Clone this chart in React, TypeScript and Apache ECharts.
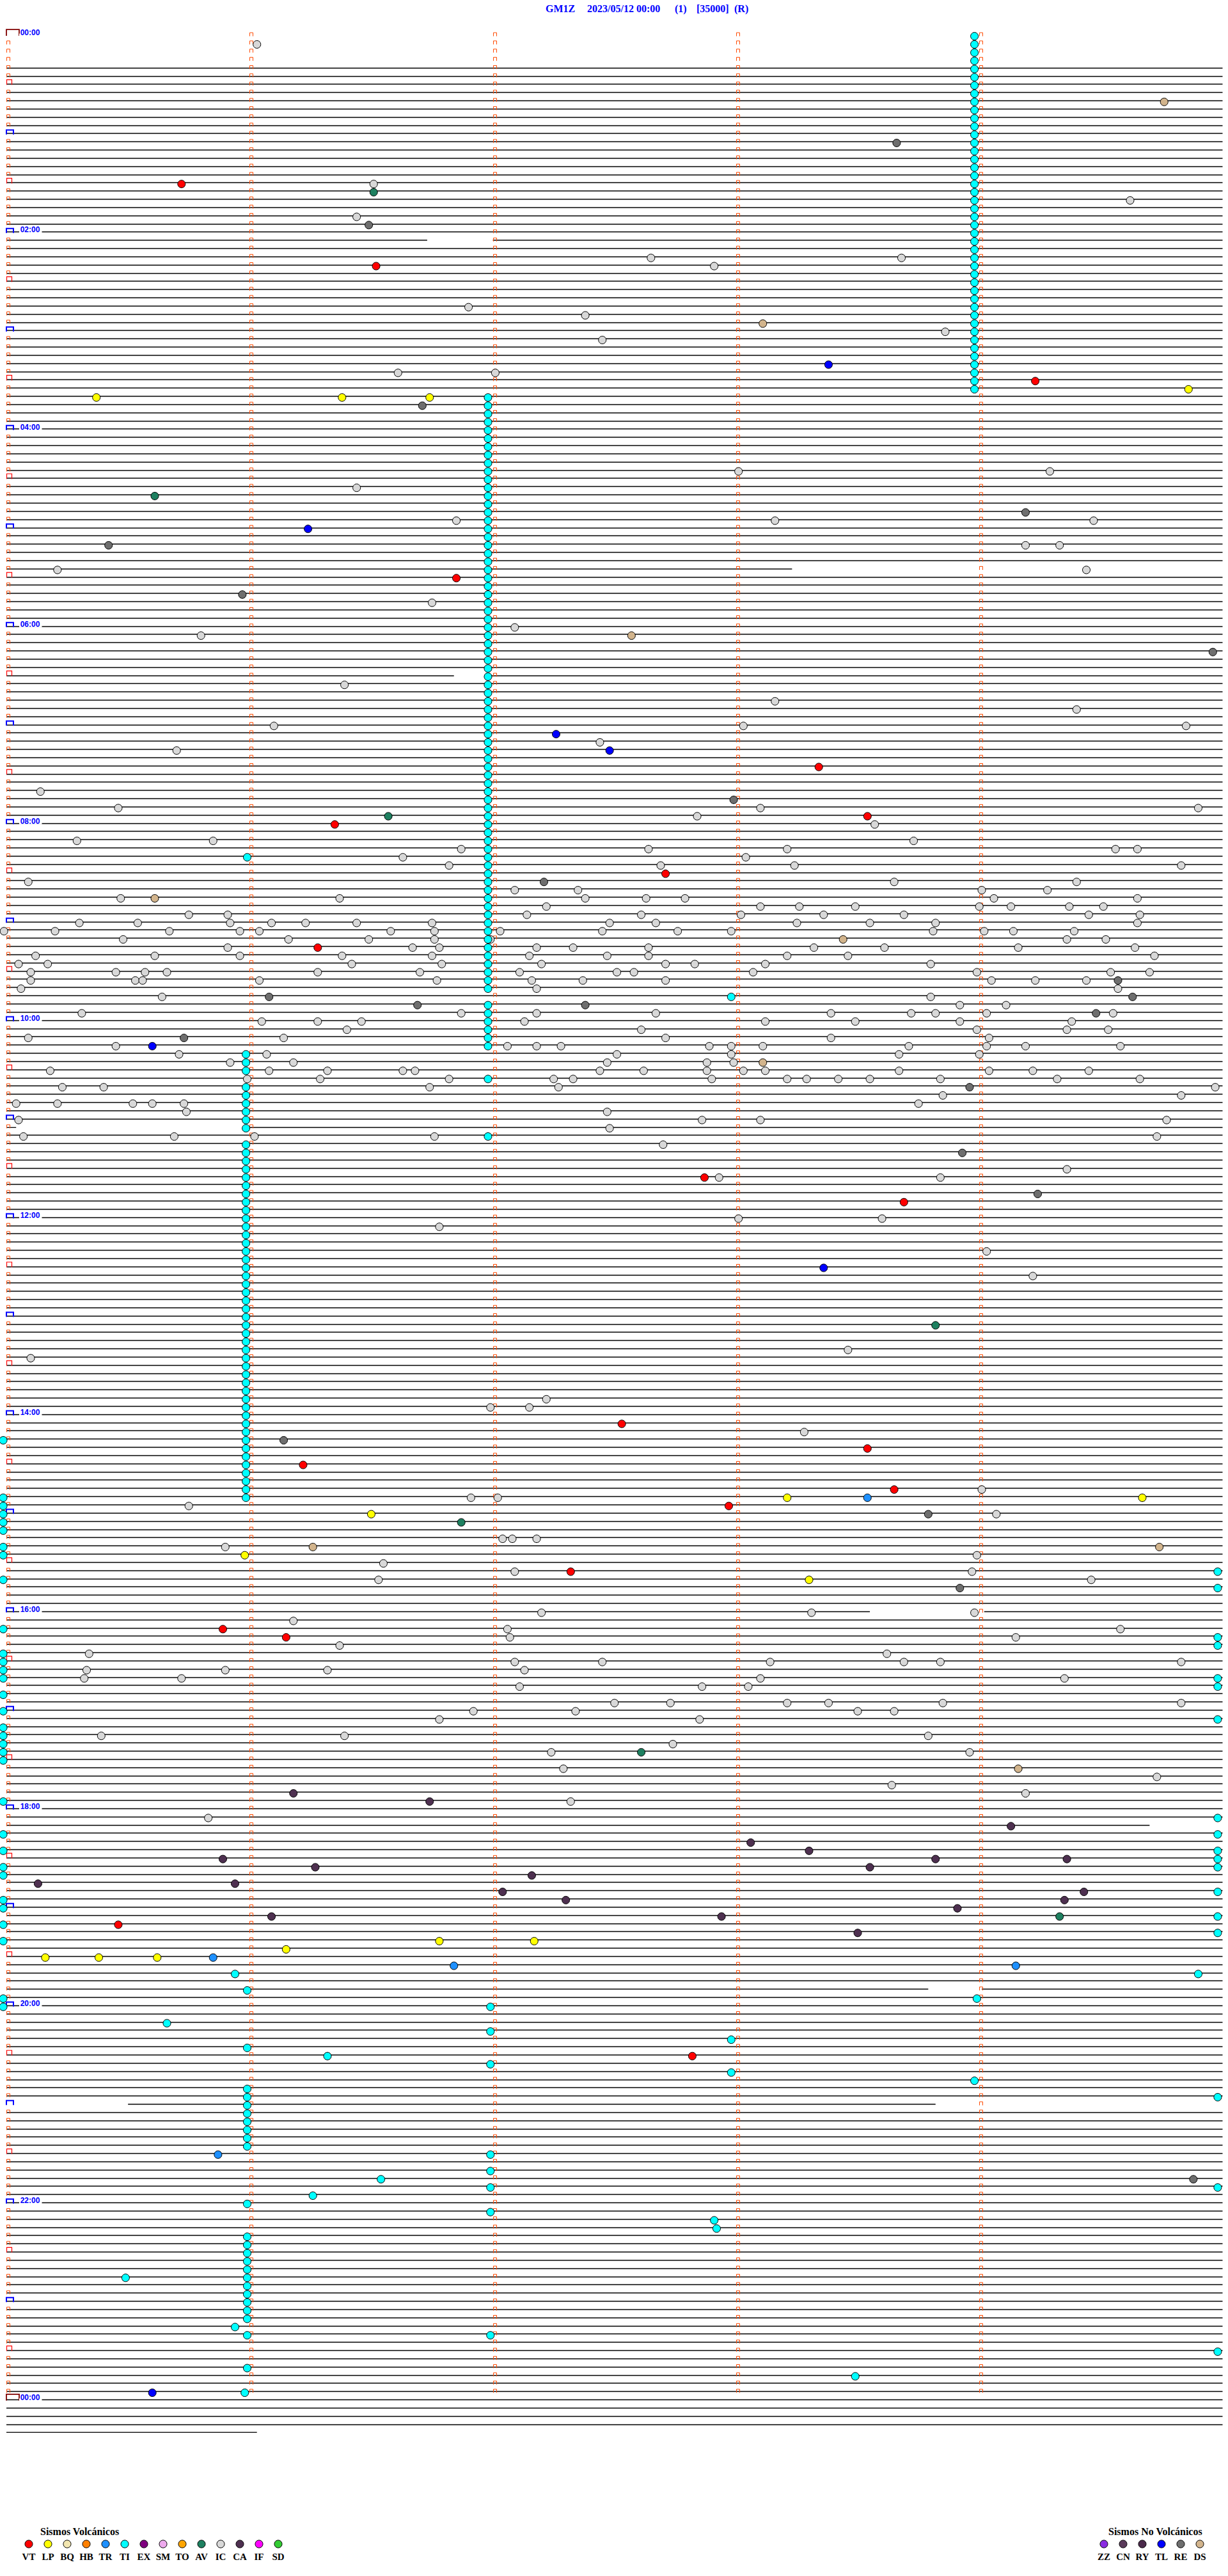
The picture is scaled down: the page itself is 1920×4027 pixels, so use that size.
import React, { useEffect, useRef } from "react";
import * as echarts from "echarts";

// ---------- layout constants ----------
const PAGE_W = 1920;
const PAGE_H = 4027;
const X0 = 10;
const PX_PER_MIN = 380.3;
const Y0 = 54.6;
const PX_PER_LINE = 12.836;
const MINUTES_PER_LINE = 5;
const LAST_LINE = 292;
const MARKED_LINES = 288;
const TRACE_FIRST = 4;
const LAST_LINE_END = 1.03;

// ---------- title ----------
const TITLE_PARTS = ["GM1Z", "2023/05/12 00:00", "(1)", "[35000]", "(R)"];
const TITLE_X = [853, 918, 1055, 1089, 1148];

// ---------- trace gaps [line, fromMinute, toMinute] ----------
const TRACE_GAPS = [
  [25, 1.73, 2.0],
  [65, 3.23, 5],
  [78, 1.84, 1.98],
  [133, 0.04, 0.99],
  [192, 3.55, 4.02],
  [218, 4.7, 5],
  [238, 3.79, 4.01],
  [252, 0, 0.5],
  [252, 3.82, 5],
];

// ---------- hour labels ----------
const HOUR_LABEL_LINES = [0, 24, 48, 72, 96, 120, 144, 168, 192, 216, 240, 264, 288];
const HOUR_LABELS = ["00:00", "02:00", "04:00", "06:00", "08:00", "10:00", "12:00", "14:00", "16:00", "18:00", "20:00", "22:00", "00:00"];

// ---------- legend ----------
const VOLC_TYPES = ["VT", "LP", "BQ", "HB", "TR", "TI", "EX", "SM", "TO", "AV", "IC", "CA", "IF", "SD"];
const NONVOLC_TYPES = ["ZZ", "CN", "RY", "TL", "RE", "DS"];
const TYPE_COLORS = {
  VT: "#FF0000", LP: "#FFFF00", BQ: "#F2E6B0", HB: "#FF8000", TR: "#1E90FF", TI: "#00FFFF",
  EX: "#800080", SM: "#EEAAEE", TO: "#FFA500", AV: "#1E8060", IC: "#D8D8D8", CA: "#4E3050",
  IF: "#FF00FF", SD: "#33CC33", ZZ: "#8A2BE2", CN: "#5A3A5A", RY: "#4B2A4B", TL: "#0000FF",
  RE: "#6E6E6E", DS: "#D2B48C",
};

// ---------- events: [minute within line, line index] ----------
const VT_EVENTS = [[0.72,18],[1.52,28],[4.23,42],[1.85,66],[3.34,89],[3.54,95],[1.35,96],[2.71,102],[1.28,111],[2.87,139],[3.69,142],[2.53,169],[3.54,172],[1.22,174],[3.65,177],[2.97,179],[2.32,187],[0.89,194],[1.15,195],[0.46,230],[2.82,246]];
const LP_EVENTS = [[4.86,43],[0.37,44],[1.38,44],[1.74,44],[3.21,178],[4.67,178],[1.50,180],[0.98,185],[3.30,188],[1.78,232],[2.17,232],[1.15,233],[0.16,234],[0.38,234],[0.62,234]];
const TR_EVENTS = [[3.54,178],[0.85,234],[1.84,235],[4.15,235],[0.87,258]];
const AV_EVENTS = [[1.51,19],[0.61,56],[1.57,95],[3.82,157],[1.87,181],[2.61,209],[4.33,229]];
const TL_EVENTS = [[3.38,40],[1.24,60],[2.26,85],[2.48,87],[0.60,123],[3.36,150],[0.60,287]];
const RE_EVENTS = [[3.66,13],[1.49,23],[1.71,45],[4.19,58],[0.42,62],[0.97,68],[4.96,75],[2.99,93],[2.21,103],[4.57,115],[1.08,117],[4.63,117],[1.69,118],[2.38,118],[4.48,119],[0.73,122],[3.96,128],[3.93,136],[4.24,141],[1.14,171],[3.79,180],[3.92,189],[4.88,261]];
const DS_EVENTS = [[4.76,8],[3.11,35],[2.57,73],[0.61,105],[3.44,110],[3.11,125],[1.26,184],[4.74,184],[4.16,211]];
const CA_EVENTS = [[1.18,214],[1.74,215],[4.13,218],[3.06,220],[3.30,221],[0.89,222],[3.82,222],[4.36,222],[1.27,223],[3.55,223],[2.16,224],[0.13,225],[0.94,225],[2.04,226],[4.43,226],[2.30,227],[4.35,227],[3.91,228],[1.09,229],[2.94,229],[3.50,231]];

const TI_COLUMN_A_MINUTE = 3.98;
const TI_COLUMN_A_LINES = [0,1,2,3,4,5,6,7,8,9,10,11,12,13,14,15,16,17,18,19,20,21,22,23,24,25,26,27,28,29,30,31,32,33,34,35,36,37,38,39,40,41,42,43];
const TI_COLUMN_B_MINUTE = 1.98;
const TI_COLUMN_B_LINES = [44,45,46,47,48,49,50,51,52,53,54,55,56,57,58,59,60,61,62,63,64,65,66,67,68,69,70,71,72,73,74,75,76,77,78,79,80,81,82,83,84,85,86,87,88,89,90,91,92,93,94,95,96,97,98,99,100,101,102,103,104,105,106,107,108,109,110,111,112,113,114,115,116,118,119,120,121,122,123];
const TI_COLUMN_C_MINUTE = 0.985;
const TI_COLUMN_C_LINES = [124,125,126,128,129,130,131,132,133,135,136,137,138,139,140,141,142,143,144,145,146,147,148,149,150,151,152,153,154,155,156,157,158,159,160,161,162,163,164,165,166,167,168,169,170,171,172,173,174,175,176,177,178];
const TI_LEFT_EDGE_LINES = [171,178,179,180,181,182,184,185,188,194,197,198,199,200,202,204,206,207,208,209,210,215,219,221,223,224,227,228,230,232,239,240];
const TI_RIGHT_EDGE_LINES = [187,189,195,196,200,201,205,217,219,221,222,223,226,229,231,251,262,282];
const TI_OTHER_EVENTS = [[0.99,100],[2.98,117],[1.98,127],[1.98,134],[0.94,236],[4.90,236],[0.99,238],[3.99,239],[1.99,240],[0.66,242],[1.99,243],[2.98,244],[0.99,245],[1.32,246],[1.99,247],[2.98,248],[3.98,249],[0.99,250],[0.99,251],[0.99,252],[0.99,253],[0.99,254],[0.99,255],[0.99,256],[0.99,257],[1.99,258],[1.99,260],[1.54,261],[1.99,262],[1.26,263],[0.99,264],[1.99,265],[2.91,266],[2.92,267],[0.99,268],[0.99,269],[0.99,270],[0.99,271],[0.99,272],[0.99,273],[0.49,273],[0.99,274],[0.99,275],[0.99,276],[0.99,277],[0.99,278],[0.94,279],[0.99,280],[1.99,280],[0.99,284],[3.49,285],[0.98,287]];

const IC_EVENTS = [
  [1.03,1],[1.51,18],[4.62,20],[1.44,22],[2.65,27],[3.68,27],[2.91,28],[1.90,33],[2.38,34],[3.86,36],[2.45,37],[1.61,41],[2.01,41],
  [3.01,53],[4.29,53],[1.44,55],[1.85,59],[3.16,59],[4.47,59],[4.19,62],[4.33,62],[0.21,65],[4.44,65],[1.75,69],[2.09,72],[0.80,73],[1.39,79],[3.16,81],[4.40,82],[1.10,84],[3.03,84],[4.85,84],[2.44,86],[0.70,87],[0.14,92],[0.46,94],[3.10,94],[4.90,94],[2.84,95],[3.57,96],[0.29,98],[0.85,98],[3.73,98],[1.87,99],[2.64,99],[3.21,99],[4.56,99],[4.65,99],[1.63,100],[3.04,100],[1.82,101],[2.69,101],[3.24,101],[4.83,101],
  [0.09,103],[3.65,103],[4.40,103],
  [2.09,104],[2.35,104],[4.01,104],[4.28,104],
  [0.47,105],[1.37,105],[2.38,105],[2.63,105],[2.79,105],[4.06,105],[4.65,105],
  [2.22,106],[3.10,106],[3.26,106],[3.49,106],[4.00,106],[4.13,106],[4.37,106],[4.51,106],
  [0.75,107],[0.91,107],[2.14,107],[2.61,107],[3.02,107],[3.36,107],[3.69,107],[4.45,107],[4.66,107],
  [0.30,108],[0.54,108],[0.92,108],[1.09,108],[1.23,108],[1.44,108],[1.75,108],[2.48,108],[2.67,108],[3.25,108],[3.55,108],[3.82,108],[4.65,108],
  [-0.01,109],[0.20,109],[0.67,109],[0.96,109],[1.04,109],[1.58,109],[1.76,109],[2.03,109],[2.45,109],[2.76,109],[2.98,109],[3.81,109],[4.02,109],[4.14,109],[4.39,109],
  [0.48,110],[1.16,110],[1.49,110],[1.76,110],[1.99,110],[4.36,110],[4.52,110],
  [0.91,111],[1.67,111],[1.78,111],[2.18,111],[2.33,111],[2.64,111],[3.32,111],[3.61,111],[4.16,111],[4.64,111],
  [0.12,112],[0.61,112],[0.96,112],[1.38,112],[1.75,112],[2.15,112],[2.47,112],[2.64,112],[3.21,112],[3.46,112],[4.72,112],
  [0.05,113],[0.17,113],[1.42,113],[1.79,113],[2.20,113],[2.71,113],[2.83,113],[3.12,113],[3.80,113],
  [0.10,114],[0.45,114],[0.57,114],[0.66,114],[1.28,114],[1.70,114],[2.11,114],[2.51,114],[2.58,114],[3.07,114],[3.99,114],[4.54,114],[4.70,114],
  [0.10,115],[0.53,115],[0.56,115],[1.04,115],[1.77,115],[2.16,115],[2.37,115],[2.71,115],[4.05,115],[4.23,115],[4.44,115],
  [0.06,116],[2.18,116],[4.57,116],
  [0.64,117],[3.80,117],
  [3.92,118],[4.11,118],
  [0.31,119],[1.87,119],[2.18,119],[2.67,119],[3.39,119],[3.72,119],[3.82,119],[4.03,119],[4.55,119],
  [1.05,120],[1.28,120],[1.46,120],[2.13,120],[3.12,120],[3.49,120],[3.92,120],[4.38,120],
  [1.40,121],[2.61,121],[3.99,121],[4.36,121],[4.53,121],
  [0.09,122],[1.14,122],[2.71,122],[3.39,122],[4.04,122],
  [0.45,123],[2.06,123],[2.18,123],[2.28,123],[2.89,123],[2.98,123],[3.11,123],[3.71,123],[4.03,123],[4.19,123],[4.58,123],
  [0.71,124],[1.07,124],[2.51,124],[2.98,124],[3.67,124],[4.00,124],
  [0.92,125],[1.18,125],[2.47,125],[2.88,125],[2.99,125],
  [0.18,126],[1.08,126],[1.32,126],[1.63,126],[1.68,126],[2.44,126],[2.62,126],[2.88,126],[3.03,126],[3.12,126],[3.67,126],[4.04,126],[4.22,126],[4.45,126],
  [0.99,127],[1.29,127],[1.82,127],[2.25,127],[2.33,127],[2.90,127],[3.21,127],[3.29,127],[3.42,127],[3.55,127],[3.84,127],[4.32,127],[4.66,127],
  [0.23,128],[0.40,128],[1.74,128],[2.27,128],[4.97,128],
  [3.85,129],[4.83,129],
  [0.04,130],[0.21,130],[0.52,130],[0.60,130],[0.73,130],[3.75,130],
  [0.74,131],[2.47,131],
  [0.05,132],[2.86,132],[3.10,132],[4.77,132],
  [2.48,133],
  [0.07,134],[0.69,134],[1.02,134],[1.76,134],[4.73,134],
  [2.70,135],[4.36,138],[2.93,139],[3.84,139],[3.01,144],[3.60,144],[1.78,145],[4.03,148],[4.22,151],[3.46,160],[0.10,161],[2.22,166],[1.99,167],[2.15,167],[3.28,170],[4.01,177],[1.91,178],[2.02,178],[0.75,179],[4.07,180],[2.04,183],[2.08,183],[2.18,183],[0.90,184],[3.99,185],[1.55,186],[2.09,187],[3.97,187],[1.53,188],[4.46,188],
  [2.20,192],[3.31,192],[3.98,192],[1.18,193],[2.06,194],[4.58,194],[2.07,195],[4.15,195],[1.37,196],[0.34,197],[3.62,197],[2.09,198],[2.45,198],[3.14,198],[3.69,198],[3.84,198],[4.83,198],[0.33,199],[0.90,199],[1.32,199],[2.13,199],[0.32,200],[0.72,200],[3.10,200],[4.35,200],[2.11,201],[2.86,201],[3.05,201],[2.50,203],[2.73,203],[3.21,203],[3.38,203],[3.85,203],[4.83,203],[1.92,204],[2.34,204],[3.50,204],[3.65,204],[1.78,205],[2.85,205],[0.39,207],[1.39,207],[3.79,207],[2.74,208],[2.24,209],[3.96,209],[2.29,211],[4.73,212],[3.64,213],[4.19,214],[2.32,215],[0.83,217],
];

function buildTraceSegments() {
  const segs = [];
  for (let k = TRACE_FIRST; k <= LAST_LINE; k++) {
    const end = k === LAST_LINE ? LAST_LINE_END : MINUTES_PER_LINE;
    const gaps = TRACE_GAPS.filter((g) => g[0] === k).sort((a, b) => a[1] - b[1]);
    let start = 0;
    for (const g of gaps) {
      if (g[1] > start) segs.push({ coords: [[start, k], [g[1], k]] });
      start = g[2];
    }
    if (end > start) segs.push({ coords: [[start, k], [end, k]] });
  }
  return segs;
}

function buildMarkers() {
  const out = [];
  for (let k = 0; k <= MARKED_LINES; k++) {
    for (let c = 0; c < MINUTES_PER_LINE; c++) {
      if (k === MARKED_LINES && c > 0) continue;
      let kind = 0;
      if (c === 0) {
        if (k % 288 === 0) kind = 3;
        else if (k % 12 === 0) kind = 2;
        else if (k % 6 === 0) kind = 1;
      }
      out.push([c, k, kind]);
    }
  }
  return out;
}

function tiEvents() {
  const pts = [];
  TI_COLUMN_A_LINES.forEach((k) => pts.push([TI_COLUMN_A_MINUTE, k]));
  TI_COLUMN_B_LINES.forEach((k) => pts.push([TI_COLUMN_B_MINUTE, k]));
  TI_COLUMN_C_LINES.forEach((k) => pts.push([TI_COLUMN_C_MINUTE, k]));
  TI_LEFT_EDGE_LINES.forEach((k) => pts.push([-0.013, k]));
  TI_RIGHT_EDGE_LINES.forEach((k) => pts.push([4.98, k]));
  TI_OTHER_EVENTS.forEach((p) => pts.push(p));
  return pts;
}

function scatter(name, data) {
  return {
    type: "scatter",
    name,
    data,
    symbol: "circle",
    symbolSize: 12,
    symbolOffset: [0, 2],
    clip: false,
    z: 5,
    silent: true,
    itemStyle: { color: TYPE_COLORS[name], borderColor: "#000", borderWidth: 1, opacity: 1 },
  };
}

function buildGraphic() {
  const g = [];
  TITLE_PARTS.forEach((t, i) => {
    g.push({
      type: "text", x: TITLE_X[i], y: 13,
      style: { text: t, fill: "#0000FF", font: 'bold 16px "Liberation Serif"', textVerticalAlign: "middle", verticalAlign: "middle" },
    });
  });
  const legendBlock = (title, titleX, types, firstX) => {
    g.push({
      type: "text", x: titleX, y: 3957,
      style: { text: title, fill: "#000", font: 'bold 16px "Liberation Serif"', textVerticalAlign: "middle", verticalAlign: "middle" },
    });
    types.forEach((t, i) => {
      const cx = firstX + i * 30;
      g.push({ type: "circle", shape: { cx, cy: 3977, r: 6 }, style: { fill: TYPE_COLORS[t], stroke: "#000", lineWidth: 1 } });
      g.push({
        type: "text", x: cx, y: 3997,
        style: { text: t, fill: "#000", font: 'bold 15px "Liberation Serif"', textAlign: "center", align: "center", textVerticalAlign: "middle", verticalAlign: "middle" },
      });
    });
  };
  legendBlock("Sismos Volcánicos", 63, VOLC_TYPES, 45);
  legendBlock("Sismos No Volcánicos", 1733, NONVOLC_TYPES, 1726);
  return g;
}

export default function App() {
  const ref = useRef(null);
  useEffect(() => {
    document.body.style.margin = "0";
    const chart = echarts.init(ref.current, null, { renderer: "svg" });
    const markers = buildMarkers();
    const option = {
      animation: false,
      backgroundColor: "#fff",
      grid: { left: X0, top: Y0, width: MINUTES_PER_LINE * PX_PER_MIN, height: LAST_LINE * PX_PER_LINE, containLabel: false },
      xAxis: { type: "value", min: 0, max: MINUTES_PER_LINE, show: false },
      yAxis: { type: "value", min: 0, max: LAST_LINE, inverse: true, show: false },
      graphic: buildGraphic(),
      series: [
        {
          type: "lines",
          coordinateSystem: "cartesian2d",
          data: buildTraceSegments(),
          lineStyle: { color: "#000", width: 1.3, opacity: 1 },
          silent: true,
          z: 1,
        },
        {
          type: "custom",
          data: markers,
          silent: true,
          z: 3,
          clip: false,
          renderItem: (params, api) => {
            const p = api.coord([api.value(0), api.value(1)]);
            const kind = api.value(2);
            const x = Math.round(p[0]);
            const y = p[1];
            let pts, stroke, lw;
            if (kind === 0) {
              pts = [[x + 0.5, y + 2], [x + 0.5, y - 3.5], [x + 5.5, y - 3.5], [x + 5.5, y + 2]];
              stroke = "#FF4A00"; lw = 1;
            } else if (kind === 1) {
              pts = [[x + 0.5, y + 1], [x + 0.5, y - 7], [x + 8.5, y - 7], [x + 8.5, y + 1]];
              stroke = "#FF0000"; lw = 1.2;
            } else if (kind === 2) {
              pts = [[x, y + 1.5], [x, y - 5.5], [x + 11, y - 5.5], [x + 11, y + 1.5]];
              stroke = "#0000FF"; lw = 2;
            } else {
              pts = [[x, y + 1.5], [x, y - 8.5], [x + 20, y - 8.5], [x + 20, y + 1.5]];
              stroke = "#800000"; lw = 1.8;
            }
            return { type: "polyline", shape: { points: pts }, style: { stroke, fill: "none", lineWidth: lw } };
          },
        },
        {
          type: "custom",
          data: HOUR_LABEL_LINES.map((k, i) => [0, k, i]),
          silent: true,
          z: 4,
          clip: false,
          renderItem: (params, api) => {
            const p = api.coord([api.value(0), api.value(1)]);
            const i = api.value(2);
            return {
              type: "group",
              children: [
                { type: "rect", shape: { x: p[0] + 20, y: p[1] - 2, width: 35.5, height: 4 }, style: { fill: "#fff" } },
                {
                  type: "text", x: p[0] + 21.7, y: p[1] - 3.2,
                  style: { text: HOUR_LABELS[i], fill: "#0000FF", font: 'bold 12px "Liberation Sans"', textVerticalAlign: "middle", verticalAlign: "middle" },
                },
              ],
            };
          },
        },
        scatter("IC", IC_EVENTS),
        scatter("TI", tiEvents()),
        scatter("VT", VT_EVENTS),
        scatter("LP", LP_EVENTS),
        scatter("TR", TR_EVENTS),
        scatter("AV", AV_EVENTS),
        scatter("CA", CA_EVENTS),
        scatter("TL", TL_EVENTS),
        scatter("RE", RE_EVENTS),
        scatter("DS", DS_EVENTS),
      ],
    };
    chart.setOption(option);
    return () => chart.dispose();
  }, []);
  return <div ref={ref} style={{ width: PAGE_W, height: PAGE_H, background: "#fff" }} />;
}
